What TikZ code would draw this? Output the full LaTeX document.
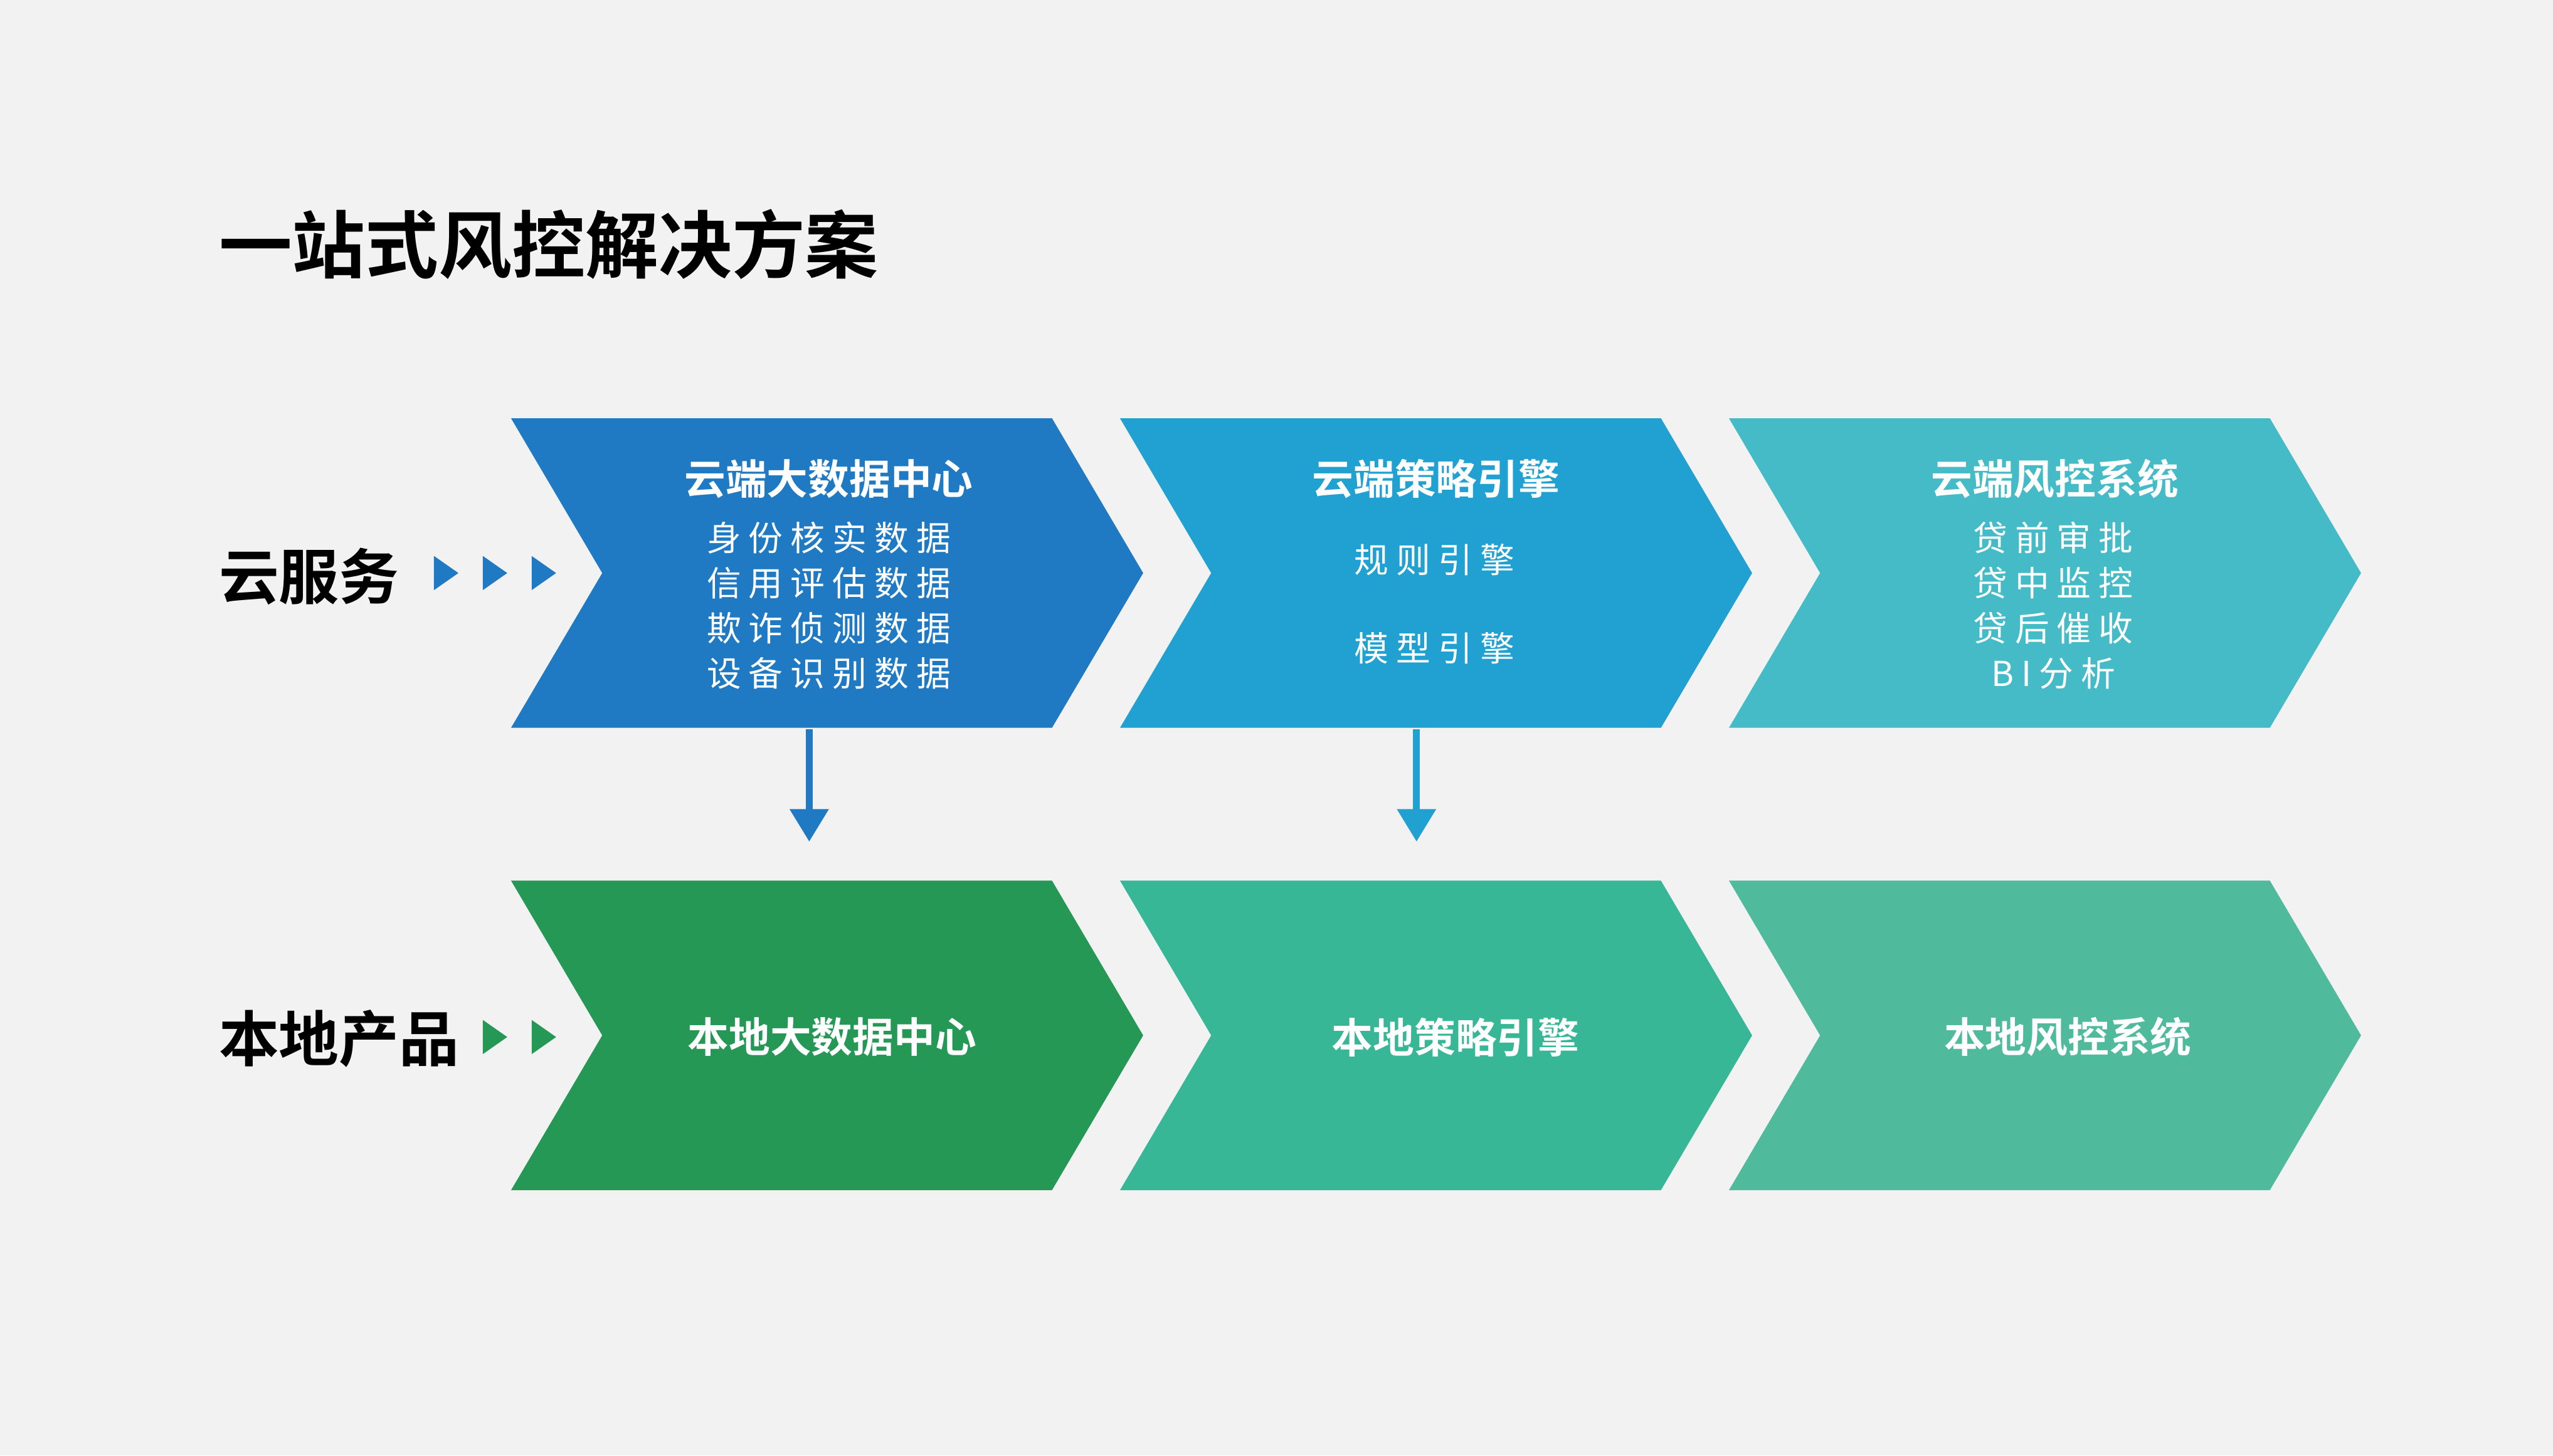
\documentclass[tikz,border=0pt]{standalone}
\usepackage{fontspec}
\newfontfamily\cjk{Noto Sans CJK SC}
\newfontfamily\cjkbf{Noto Sans CJK SC Bold}
\newfontfamily\cjkwide{Noto Sans CJK SC}[LetterSpace=22]
\usetikzlibrary{shapes.symbols,shapes.geometric,arrows.meta}
\definecolor{bgGrey}{HTML}{F2F2F2}
\definecolor{cloudA}{HTML}{1F7AC3}
\definecolor{cloudB}{HTML}{21A0D2}
\definecolor{cloudC}{HTML}{44BBC7}
\definecolor{localA}{HTML}{259856}
\definecolor{localB}{HTML}{38B797}
\definecolor{localC}{HTML}{4FBB9C}
\tikzset{
	chev/.style={signal,signal from=west,signal to=east,signal pointer angle=119,
		minimum width=3.88cm,minimum height=1.9cm,inner sep=0pt,fill=#1},
	boxtitle/.style={text=white,font=\cjkbf\fontsize{7.2}{8}\selectfont},
	boxlist/.style={text=white,align=center,font=\cjkwide\fontsize{6}{7.9}\selectfont},
	rowlabel/.style={anchor=west,font=\cjkbf\fontsize{10.5}{12}\selectfont},
	marker/.style={isosceles triangle,isosceles triangle apex angle=70,inner sep=0pt,
		minimum height=0.15cm,fill=#1},
	down/.style={draw=#1,line width=1.2pt,-{Triangle[width=0.23cm,length=0.2cm]}}
}
\begin{document}
\begin{tikzpicture}[x=0.01cm,y=-0.01cm]
	\fill[bgGrey] (0,0) rectangle (1568,894);
	\useasboundingbox (0,0) rectangle (1568,894);
	\node[anchor=west,font=\cjkbf\fontsize{12.8}{14}\selectfont] (title) at (122,150) {一站式风控解决方案};
	%
	\node[rowlabel] (cloud) at (122,354) {云服务};
	\node[marker=cloudA] (m1) at (272,352) {};
	\node[marker=cloudA] (m2) at (302,352) {};
	\node[marker=cloudA] (m3) at (332,352) {};
	\node[rowlabel] (local) at (122,638) {本地产品};
	\node[marker=localA] (m4) at (302,637) {};
	\node[marker=localA] (m5) at (332,637) {};
	%
	\node[chev=cloudA] (c1) at (508,352) {};
	\node[chev=cloudB] (c2) at (882,352) {};
	\node[chev=cloudC] (c3) at (1256,352) {};
	\node[chev=localA] (l1) at (508,636) {};
	\node[chev=localB] (l2) at (882,636) {};
	\node[chev=localC] (l3) at (1256,636) {};
	%
	\node[boxtitle] (c1t) at (509,294) {云端大数据中心};
	\node[boxlist] (c1l) at (509,372) {身份核实数据\\信用评估数据\\欺诈侦测数据\\设备识别数据};
	\node[boxtitle] (c2t) at (882,294) {云端策略引擎};
	\node[boxlist] (c2a) at (881,344) {规则引擎};
	\node[boxlist] (c2b) at (881,398) {模型引擎};
	\node[boxtitle] (c3t) at (1262,294) {云端风控系统};
	\node[boxlist] (c3l) at (1261,372) {贷前审批\\贷中监控\\贷后催收\\BI分析};
	\node[boxtitle] (l1t) at (511,637) {本地大数据中心};
	\node[boxtitle] (l2t) at (894,637) {本地策略引擎};
	\node[boxtitle] (l3t) at (1270,637) {本地风控系统};
	%
	\coordinate (d1) at (497,517);
	\coordinate (d2) at (870,517);
	\draw[down=cloudA] (c1.south -| d1) -- (d1);
	\draw[down=cloudB] (c2.south -| d2) -- (d2);
\end{tikzpicture}
\end{document}
